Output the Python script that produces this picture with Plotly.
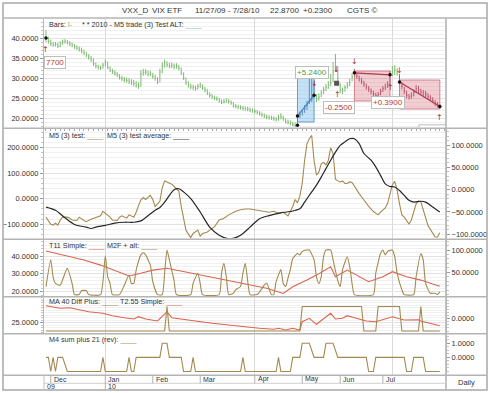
import plotly.graph_objects as go

W, H = 490, 393


def fx(px):
    return px / W


def fy(py):
    return 1 - py / H


# ------------------------------------------------------------------ DATA
# daily bars (trading-day index 0 = 11/27/09 ... 166 = 7/28/10)
close = [40.0, 39.2, 38.6, 38.3, 38.4, 38.0, 38.6, 39.0, 39.2, 38.9,
         38.6, 38.2, 37.8, 37.5, 37.2, 36.8, 36.3, 35.8, 35.2, 34.7,
         33.6, 33.0, 32.7, 32.5, 33.2, 34.0, 32.6, 32.0, 31.6, 31.2,
         30.8, 30.1, 29.8, 29.5, 29.4, 29.2, 28.9, 28.6, 28.2, 28.0,
         31.0, 31.4, 31.5, 31.0, 31.2, 30.4, 30.0, 29.0, 31.5, 33.0,
         33.8, 33.3, 33.0, 33.2, 32.8, 33.0, 32.5, 31.2, 30.0, 28.8,
         28.2, 27.8, 27.6, 27.4, 27.9, 28.2, 27.5, 27.0, 26.2, 25.6,
         25.3, 25.0, 24.8, 24.3, 24.0, 24.1, 24.3, 24.1, 23.8, 23.0,
         22.9, 22.7, 22.6, 22.4, 22.3, 22.2, 22.0, 21.8, 21.6, 21.4,
         21.1, 20.8, 20.5, 20.2, 20.1, 20.0, 19.8, 19.6, 20.0, 20.4,
         19.8, 19.1, 18.9, 18.7, 18.4, 18.2, 20.5, 20.9, 21.5, 22.3,
         23.2, 24.2, 24.8, 25.7, 24.8, 25.2, 26.3, 27.0, 27.6, 28.2,
         28.8, 31.5, 33.0, 30.0, 27.0, 26.8, 27.6, 28.2, 28.9, 30.3,
         31.3, 30.5, 29.8, 29.2, 28.5, 27.8, 27.2, 26.6, 26.0, 25.6,
         25.8, 26.6, 27.3, 27.8, 28.3, 30.8, 31.5, 32.0, 31.6, 29.0,
         27.9, 26.8, 25.7, 25.3, 25.5, 26.4, 27.3, 27.0, 26.5, 26.3,
         26.0, 25.4, 25.0, 24.4, 23.7, 23.2, 22.9]
high = [42.0, 40.3, 39.6, 39.0, 39.0, 38.9, 39.2, 39.6, 39.7, 39.5,
        39.2, 38.9, 38.5, 38.2, 37.9, 37.6, 37.1, 36.6, 36.0, 35.5,
        34.9, 33.9, 33.3, 33.1, 33.8, 34.6, 34.1, 32.9, 32.3, 32.0,
        31.5, 31.0, 30.6, 30.3, 30.1, 30.0, 29.7, 29.5, 29.2, 28.9,
        32.0, 32.3, 32.2, 31.9, 31.8, 31.3, 30.8, 30.2, 32.3, 33.9,
        34.6, 34.2, 33.8, 33.9, 33.6, 33.7, 33.3, 32.6, 31.4, 30.1,
        29.2, 28.6, 28.3, 28.1, 28.5, 28.9, 28.4, 27.8, 27.2, 26.4,
        26.0, 25.6, 25.4, 25.0, 24.6, 24.7, 24.9, 24.7, 24.4, 24.0,
        23.5, 23.3, 23.2, 23.0, 22.9, 22.8, 22.6, 22.4, 22.2, 22.0,
        21.7, 21.4, 21.1, 20.8, 20.7, 20.6, 20.4, 20.2, 20.8, 21.2,
        20.6, 19.9, 19.6, 19.4, 19.1, 18.9, 21.0, 21.6, 22.2, 23.2,
        24.3, 30.0, 31.5, 29.0, 26.0, 26.2, 27.0, 27.8, 28.5, 29.2,
        31.0, 34.0, 36.0, 33.0, 28.7, 27.6, 28.2, 29.0, 29.8, 31.2,
        32.3, 31.3, 30.6, 30.0, 29.3, 28.6, 28.0, 27.4, 26.8, 26.3,
        26.5, 27.3, 28.0, 28.6, 29.2, 31.8, 33.0, 33.2, 32.5, 31.0,
        29.0, 27.8, 26.8, 26.0, 26.4, 27.2, 28.2, 28.0, 27.3, 27.0,
        26.8, 26.2, 25.7, 25.2, 24.5, 24.0, 23.5]
low = [39.0, 38.6, 38.0, 37.8, 37.9, 37.5, 37.7, 38.3, 38.6, 38.4,
       38.0, 37.7, 37.3, 37.0, 36.6, 36.2, 35.7, 35.2, 34.6, 34.0,
       33.0, 32.4, 32.1, 32.0, 32.3, 33.0, 32.2, 31.5, 31.0, 30.6,
       30.2, 29.6, 29.2, 28.9, 28.8, 28.5, 28.2, 27.9, 27.6, 27.3,
       27.8, 30.6, 30.8, 30.4, 30.5, 29.8, 29.3, 28.5, 28.9, 31.2,
       32.6, 32.7, 32.4, 32.5, 32.2, 32.3, 31.9, 30.7, 29.5, 28.3,
       27.6, 27.2, 27.0, 26.8, 27.1, 27.5, 27.0, 26.4, 25.7, 25.1,
       24.8, 24.5, 24.3, 23.8, 23.5, 23.6, 23.8, 23.6, 23.3, 22.6,
       22.4, 22.2, 22.1, 21.9, 21.8, 21.7, 21.5, 21.3, 21.1, 20.9,
       20.6, 20.3, 20.0, 19.7, 19.6, 19.5, 19.3, 19.1, 19.3, 19.7,
       19.3, 18.6, 18.4, 18.2, 17.9, 17.7, 18.0, 20.0, 20.6, 21.3,
       22.0, 23.5, 24.0, 25.0, 24.0, 24.3, 25.2, 26.0, 26.7, 27.3,
       28.0, 29.0, 31.5, 28.5, 26.2, 26.0, 26.6, 27.3, 28.0, 29.2,
       30.4, 29.8, 29.1, 28.5, 27.8, 27.1, 26.5, 25.9, 25.3, 24.9,
       25.0, 25.7, 26.5, 27.0, 27.5, 28.0, 30.5, 30.8, 30.6, 28.4,
       27.2, 26.0, 25.0, 24.6, 24.8, 25.4, 26.3, 26.2, 25.7, 25.5,
       25.2, 24.7, 24.3, 23.7, 23.0, 22.6, 22.3]
days = list(range(len(close)))

# trades (day index, price)
trade_entry_day = [106, 130, 149]
trade_exit_day = [113, 145, 166]
trade_entry_price = [20.5, 31.3, 29.0]
trade_exit_price = [25.7, 30.8, 22.9]
trade_box_low = [19.0, 24.25, 22.25]
trade_box_high = [31.5, 31.75, 29.5]
trade_side = ["long", "short", "short"]

pnl_text = ["7700", "+5.2400", "-0.2500", "+0.3900"]
pnl_day = [-0.84, 112.3, 123.5, 144.1]
pnl_price = [33.9, 31.25, 22.6, 23.75]
pnl_color = ["#b2402e", "#3f9a3f", "#b2402e", "#b2402e"]

up_arrow_day = [0, 123, 145, 166]
up_arrow_price = [37.0, 25.75, 27.5, 20.0]
down_arrow_day = [113, 122.5, 130, 149]
down_arrow_price = [28.7, 32.0, 34.1, 31.8]

dot_day = [0, 106, 106, 113, 130, 145, 149, 166]
dot_price = [40.0, 20.5, 18.2, 25.7, 31.3, 30.8, 29.0, 22.9]
square_day = [122.5]
square_price = [28.7]

# panel 2: M5 (3) test (left axis), M5 (3) test average (right axis)
m5_test = [(0, -72), (2, -100), (3, -103), (4, -96), (5, -103), (6, -83), (7, -72), (9, -72),
           (10, -76), (11, -83), (13, -85), (14, -72), (16, -85), (17, -90), (19, -80), (21, -72),
           (23, -67), (24, -49), (26, -63), (27, -72), (28, -83), (30, -85), (31, -72), (32, -67),
           (34, -76), (35, -63), (37, -72), (38, -53), (39, -27), (40, -5), (41, 5), (42, -3),
           (44, 13), (45, -3), (46, -30), (48, -10), (49, 44), (50, 70), (51, 66), (53, 57),
           (54, 48), (56, 30), (57, -30), (58, -76), (59, -123), (61, -152), (62, -136), (64, -123),
           (65, -147), (66, -136), (68, -130), (69, -123), (71, -110), (73, -83), (75, -76), (77, -63),
           (80, -49), (82, -43), (84, -40), (86, -40), (88, -43), (90, -45), (92, -49), (94, -53),
           (96, -49), (98, -56), (100, -53), (102, -67), (103, -49), (104, -30), (105, -3), (106, -16),
           (107, 10), (108, 60), (109, 150), (110, 215), (111, 235), (112, 248), (113, 150), (114, 92),
           (115, 104), (116, 137), (117, 142), (118, 133), (119, 150), (120, 200), (121, 177), (122, 77),
           (123, 70), (124, 66), (125, 70), (126, 60), (127, 60), (128, 66), (129, 64), (130, 48),
           (132, 20), (134, -5), (136, -30), (138, -50), (140, -63), (141, -52), (143, -36), (144, -18),
           (145, 17), (146, 55), (147, 68), (148, 35), (149, -20), (150, -63), (151, -72), (152, -85),
           (153, -99), (154, -83), (155, -50), (156, -20), (157, -8), (158, -12), (159, -43), (160, -76),
           (161, -105), (162, -120), (163, -135), (164, -150), (165, -150), (166, -133)]
m5_avg = [(0, -39), (4, -46), (8, -63), (12, -78), (17, -84), (19, -87), (21, -84), (25, -80),
          (29, -75), (33, -73), (37, -73), (40, -70), (44, -54), (46, -46), (48, -40), (50, -28),
          (52, -13), (54, 0), (56, 2), (58, -5), (61, -20), (65, -50), (69, -84), (73, -102),
          (77, -110), (79, -109), (82, -102), (86, -84), (90, -65), (94, -58), (99, -52), (103, -49),
          (107, -43), (109, -28), (112, -5), (114, 10), (116, 28), (118, 47), (120, 66), (122, 84),
          (124, 99), (126, 107), (128, 114), (130, 114), (132, 103), (134, 81), (137, 66), (139, 51),
          (141, 32), (143, 13), (145, 7), (147, 6), (149, -2), (151, -13), (153, -24), (155, -28),
          (158, -26), (160, -28), (162, -35), (164, -43), (166, -50)]

# panel 3: T11 Simple (left), M2F + alt (right)
t11_simple = [(0, 42.8), (9, 40), (16, 37.8), (23, 34.9), (28, 32.5), (35, 28.8), (40, 30.3),
              (45, 32.1), (51, 33.1), (58, 31.2), (65, 29.3), (72, 27.5), (79, 25.6), (86, 23.7),
              (93, 21.9), (100, 19.0), (104, 22.8), (110, 26.5), (114, 29.3), (120, 34.0),
              (122, 28.4), (127, 32.1), (132, 28.4), (136, 25.6), (142, 28.4), (146, 31.2),
              (152, 28.4), (158, 26.5), (163, 24.3), (166, 23.1)]
m2f_alt = [(0, 18), (2, 78), (3, 40), (4, 25), (6, 21), (8, 48), (9, 59), (11, 25), (12, 0),
           (14, 0), (15, 9), (17, 9), (18, 0), (23, 0), (25, 87), (26, 40), (27, 25), (28, 0),
           (31, 0), (33, 21), (35, 44), (36, 25), (37, 25), (38, 55), (40, 89), (41, 94), (42, 89),
           (44, 66), (45, 29), (47, 0), (49, 0), (50, 48), (51, 100), (52, 78), (54, 31), (55, 0),
           (61, 0), (62, 25), (64, 48), (65, 25), (66, 0), (73, 0), (74, 48), (75, 70), (76, 40),
           (77, 0), (79, 3), (80, 11), (82, 18), (83, 48), (84, 70), (85, 31), (86, 0), (89, 0),
           (92, 21), (93, 26), (95, 0), (96, 0), (97, 29), (99, 56), (100, 25), (101, 18), (102, 37),
           (103, 56), (104, 81), (106, 92), (107, 89), (108, 97), (110, 100), (111, 100), (113, 78),
           (114, 40), (115, 25), (116, 40), (117, 85), (118, 100), (120, 100), (121, 78), (123, 31),
           (124, 18), (125, 56), (127, 85), (128, 63), (129, 25), (130, 0), (138, 0), (139, 48),
           (141, 92), (142, 100), (143, 89), (144, 97), (146, 100), (147, 85), (148, 48), (150, 11),
           (151, 0), (155, 0), (156, 40), (158, 92), (159, 78), (160, 25), (162, 3), (164, 3),
           (165, 0), (166, 6)]

# panel 4: MA 40 Diff Plus (right), T2.55 Simple (left)
ma40_diff = [(0, -1), (50, -1), (51, 1), (52, -1), (107, -1), (108, 1), (133, 1), (134, -1),
             (139, -1), (140, 1), (149, 1), (150, -1), (157, -1), (158, 1), (159, -1), (166, -1)]
t255_simple = [(0, 42), (6, 39.4), (10, 40), (14, 37.7), (18, 36), (24, 34.4), (28, 32), (33, 30),
               (37, 28.7), (39, 31), (42, 28.7), (47, 26.7), (51, 36), (53, 30), (58, 28.7),
               (63, 26.7), (70, 24.4), (76, 22.7), (82, 21), (90, 19.4), (96, 18.4), (98, 19.5),
               (101, 17.7), (104, 19.4), (107, 17.7), (108, 26), (111, 29.4), (114, 23.4),
               (120, 34.4), (122, 28.7), (125, 29.4), (127, 32), (130, 30), (135, 26.7), (139, 26),
               (146, 31), (151, 27.7), (157, 28), (158, 26.7), (166, 22)]

# panel 5: M4 sum plus 21 (rev)
m4_sum = [(0, 0), (1, 0), (2, -1), (3, 0), (4, -1), (5, 0), (7, 0), (9, -1), (23, -1), (24, 0),
          (25, -1), (34, -1), (35, 0), (36, -1), (37, -1), (38, 0), (48, 0), (49, 1), (51, 1),
          (52, 0), (57, 0), (58, -1), (61, -1), (62, 0), (63, -1), (82, -1), (83, 0), (84, -1),
          (97, -1), (98, 0), (99, -1), (103, -1), (104, 0), (107, 0), (108, 1), (111, 1), (113, 0),
          (117, 0), (118, 1), (121, 1), (123, 0), (135, 0), (136, -1), (138, -1), (139, 0),
          (151, 0), (152, -1), (154, -1), (155, 0), (159, 0), (160, -1), (166, -1)]

month_labels = ["Dec", "Jan", "Feb", "Mar", "Apr", "May", "Jun", "Jul"]
month_days = [2, 25, 45, 65, 88, 108, 124, 142]
year_labels = ["09", "10"]
year_days = [-0.84, 25]
quarter_grid_days = [25, 88, 146]

title_parts = ["VXX_D", "VIX ETF", "11/27/09 - 7/28/10", "22.8700", "+0.2300", "CGTS \u00a9"]

# ------------------------------------------------------------------ STYLE
TAN = "#a38a50"
RED = "#d9654e"
GREEN = "#7cba70"
BAR_LONG = "#5b8fbf"
BAR_SHORT = "#b85a70"
BLACK = "#262626"
ARROW = "#a5322a"
FONT = "Liberation Sans, Arial, sans-serif"
TXT = "#333333"

X_RANGE = [-0.84, 168.6]
# panel pixel extents (top, bottom)
PAN = {1: (18.5, 127.5), 2: (129.0, 238.5), 3: (240.0, 296.0), 4: (297.5, 333.0), 5: (334.5, 375.0)}


def yrange(v1, p1, v2, p2, panel):
    top, bot = PAN[panel]
    s = (v1 - v2) / (p1 - p2)
    return [v1 + (bot - p1) * s, v1 + (top - p1) * s]


def dom(panel):
    top, bot = PAN[panel]
    return [fy(bot), fy(top)]


fig = go.Figure()


def unzip(pairs):
    return [p[0] for p in pairs], [p[1] for p in pairs]


def bar_color(d):
    for e, x_, side in zip(trade_entry_day, trade_exit_day, trade_side):
        if e <= d <= x_:
            return BAR_LONG if side == "long" else BAR_SHORT
    return GREEN


# --- panel 1 bars (HLC: vertical range + close tick on the right)
groups = {}
for d, h, l, c in zip(days, high, low, close):
    col = bar_color(d)
    g = groups.setdefault(col, ([], []))
    g[0].extend([d, d, None, d, d + 0.4, None])
    g[1].extend([l, h, None, c, c, None])
for col, (gx, gy) in groups.items():
    fig.add_trace(go.Scatter(x=gx, y=gy, mode="lines", line=dict(color=col, width=1),
                             xaxis="x", yaxis="y", hoverinfo="skip"))

# trade lines
for e, x_, ep, xp, side in zip(trade_entry_day, trade_exit_day, trade_entry_price,
                               trade_exit_price, trade_side):
    col = "#3d82c4" if side == "long" else "#b5344a"
    fig.add_trace(go.Scatter(x=[e, x_], y=[ep, xp], mode="lines", line=dict(color=col, width=1.2),
                             xaxis="x", yaxis="y", hoverinfo="skip"))
fig.add_trace(go.Scatter(x=dot_day, y=dot_price, mode="markers",
                         marker=dict(color="#111", size=3.5), xaxis="x", yaxis="y", hoverinfo="skip"))
fig.add_trace(go.Scatter(x=square_day, y=square_price, mode="markers",
                         marker=dict(color="#555", size=5, symbol="square"),
                         xaxis="x", yaxis="y", hoverinfo="skip"))

# --- panel 2
d_, v_ = unzip(m5_test)
fig.add_trace(go.Scatter(x=d_, y=v_, mode="lines", line=dict(color=TAN, width=1.1),
                         xaxis="x2", yaxis="y3", hoverinfo="skip"))
d_, v_ = unzip(m5_avg)
fig.add_trace(go.Scatter(x=d_, y=v_, mode="lines", line=dict(color=BLACK, width=1.2, shape="spline", smoothing=0.8),
                         xaxis="x2", yaxis="y4", hoverinfo="skip"))

# --- panel 3
d_, v_ = unzip(m2f_alt)
fig.add_trace(go.Scatter(x=d_, y=v_, mode="lines", line=dict(color=TAN, width=1.1, shape="spline", smoothing=0.5),
                         xaxis="x3", yaxis="y6", hoverinfo="skip"))
d_, v_ = unzip(t11_simple)
fig.add_trace(go.Scatter(x=d_, y=v_, mode="lines", line=dict(color=RED, width=1.1),
                         xaxis="x3", yaxis="y5", hoverinfo="skip"))

# --- panel 4
d_, v_ = unzip(ma40_diff)
fig.add_trace(go.Scatter(x=d_, y=v_, mode="lines", line=dict(color=TAN, width=1.1),
                         xaxis="x4", yaxis="y8", hoverinfo="skip"))
d_, v_ = unzip(t255_simple)
fig.add_trace(go.Scatter(x=d_, y=v_, mode="lines", line=dict(color=RED, width=1.1),
                         xaxis="x4", yaxis="y7", hoverinfo="skip"))

# --- panel 5
d_, v_ = unzip(m4_sum)
fig.add_trace(go.Scatter(x=d_, y=v_, mode="lines", line=dict(color=TAN, width=1.1),
                         xaxis="x5", yaxis="y10", hoverinfo="skip"))

# ------------------------------------------------------------------ AXES
tickfont = dict(family=FONT, size=7.5, color=TXT)


def xax(anchor, bottom=False):
    d = dict(domain=[fx(44), fx(446)], range=X_RANGE, anchor=anchor, tickmode="array",
             tickvals=quarter_grid_days, showticklabels=False, ticks="", showgrid=True,
             gridcolor="#d9d9d9", gridwidth=1, zeroline=False, showline=False, fixedrange=True)
    if bottom:
        d["minor"] = dict(tickmode="linear", tick0=0, dtick=2, ticks="outside", ticklen=2,
                          tickcolor="#aaaaaa", showgrid=False)
    return d


def yax(panel, rng, tickvals, side, xanchor, overlay=None, minor_dtick=None, grid=True):
    d = dict(domain=dom(panel), range=rng, side=side, anchor=xanchor, tickmode="array",
             tickvals=tickvals, tickformat=".4f", tickfont=tickfont, ticks="outside", ticklen=3,
             tickcolor="#9a9a9a", showline=True, linecolor="#b8b8b8", linewidth=1,
             zeroline=False, showgrid=grid, gridcolor="#e3e3e3", fixedrange=True)
    if overlay:
        d["overlaying"] = overlay
    if minor_dtick:
        d["minor"] = dict(dtick=minor_dtick, ticks="outside", ticklen=2, tickcolor="#c4c4c4",
                          showgrid=grid, gridcolor="#f1f1f1")
    return d


lay = dict(
    width=W, height=H, margin=dict(l=0, r=0, t=0, b=0),
    paper_bgcolor="white", plot_bgcolor="white", showlegend=False,
    font=dict(family=FONT, size=7.5, color=TXT),
    xaxis=xax("y"), xaxis2=xax("y3"), xaxis3=xax("y5"), xaxis4=xax("y7"), xaxis5=xax("y9", True),
)
lay["xaxis2"]["matches"] = "x"
lay["xaxis3"]["matches"] = "x"
lay["xaxis4"]["matches"] = "x"
lay["xaxis5"]["matches"] = "x"

r1 = yrange(40, 38, 20, 118, 1)
lay["yaxis"] = yax(1, r1, [20, 25, 30, 35, 40], "left", "x", minor_dtick=1)
lay["yaxis2"] = yax(1, r1, [20, 25, 30, 35, 40], "right", "x", overlay="y", minor_dtick=1, grid=False)
lay["yaxis3"] = yax(2, yrange(200, 147.7, -100, 224.3, 2), [-100, 0, 100, 200], "left", "x2", minor_dtick=20)
lay["yaxis4"] = yax(2, yrange(100, 145, -100, 234.3, 2), [-100, -50, 0, 50, 100], "right", "x2",
                    overlay="y3", minor_dtick=10, grid=False)
lay["yaxis5"] = yax(3, yrange(40, 256, 20, 291.7, 3), [20, 30, 40], "left", "x3", minor_dtick=2)
lay["yaxis6"] = yax(3, yrange(100, 250, 50, 272.3, 3), [50, 100], "right", "x3", overlay="y5",
                    minor_dtick=10, grid=False)
lay["yaxis7"] = yax(4, yrange(25, 322.7, 35, 312.7, 4), [25], "left", "x4", minor_dtick=2.5)
lay["yaxis8"] = yax(4, yrange(1, 306.5, -1, 331, 4), [0], "right", "x4", overlay="y7",
                    minor_dtick=0.25, grid=False)
lay["yaxis9"] = yax(5, yrange(1, 343.3, -1, 371.5, 5), [], "left", "x5", minor_dtick=0.25)
lay["yaxis10"] = yax(5, yrange(1, 343.3, -1, 371.5, 5), [0, 1], "right", "x5", overlay="y9",
                     minor_dtick=0.25, grid=False)
fig.update_layout(**lay)

# ------------------------------------------------------------------ SHAPES
shapes = []
# trade boxes
for e, x_, lo, hi, side in zip(trade_entry_day, trade_exit_day, trade_box_low, trade_box_high, trade_side):
    if side == "long":
        fill, line = "rgba(140,195,235,0.50)", "rgba(80,145,200,0.85)"
    else:
        fill, line = "rgba(221,125,140,0.38)", "rgba(200,95,115,0.75)"
    shapes.append(dict(type="rect", xref="x", yref="y", x0=e, x1=x_, y0=lo, y1=hi,
                       fillcolor=fill, line=dict(color=line, width=1), layer="between"))
# clipped label of last trade (mostly below the panel)
shapes.append(dict(type="rect", xref="x", yref="y", x0=157.2, x1=170, y0=16.0, y1=18.3,
                   fillcolor="white", line=dict(color="#bdbdbd", width=1), layer="above"))

# frame
FR = "#b4b4b4"
shapes.append(dict(type="rect", xref="paper", yref="paper", x0=fx(3), x1=fx(487), y0=fy(390), y1=fy(3),
                   line=dict(color="#a8a8a8", width=1.5), layer="above"))
for py in [18, 128.2, 239.2, 296.8, 333.8, 375.2]:
    shapes.append(dict(type="line", xref="paper", yref="paper", x0=fx(3), x1=fx(487), y0=fy(py), y1=fy(py),
                       line=dict(color=FR, width=1.6), layer="above"))
shapes.append(dict(type="line", xref="paper", yref="paper", x0=fx(446), x1=fx(446), y0=fy(390), y1=fy(18),
                   line=dict(color=FR, width=1.6), layer="above"))
shapes.append(dict(type="line", xref="paper", yref="paper", x0=fx(44), x1=fx(44), y0=fy(390), y1=fy(375),
                   line=dict(color="#c0c0c0", width=1), layer="above"))
shapes.append(dict(type="line", xref="paper", yref="paper", x0=fx(44), x1=fx(446), y0=fy(383.3), y1=fy(383.3),
                   line=dict(color="#d0d0d0", width=1), layer="above"))
# month ticks on the date row
for lbl, d in zip(month_labels, month_days):
    bottom = 390 if lbl == "Jan" else 383.3
    shapes.append(dict(type="line", xref="x5", yref="paper", x0=d, x1=d, y0=fy(bottom), y1=fy(375),
                       line=dict(color="#b0b0b0", width=1), layer="above"))
fig.update_layout(shapes=shapes)

# ------------------------------------------------------------------ ANNOTATIONS
ann = []
title_x = [120, 150, 193, 268, 301, 345]
for t, px in zip(title_parts, title_x):
    ann.append(dict(xref="paper", yref="paper", x=fx(px), y=fy(10.5), text=t, showarrow=False,
                    xanchor="left", yanchor="middle", font=dict(family=FONT, size=8, color=TXT)))


def u(col):
    return "<span style='color:%s'>____</span>" % col


legend_items = [
    (47, 25, "Bars: <span style='color:%s'>I-</span>" % GREEN),
    (80, 25, "* * 2010 - M5 trade (3) Test ALT: " + u("#7ab4e0")),
    (47, 135.5, "M5 (3) test: " + u(TAN)),
    (105, 135.5, "M5 (3) test average: " + u(BLACK)),
    (47, 245, "T11 Simple: " + u(RED)),
    (105, 245, "M2F + alt: " + u(TAN)),
    (47, 301, "MA 40 Diff Plus: " + u(TAN)),
    (118, 301, "T2.55 Simple: " + u(RED)),
    (47, 339, "M4 sum plus 21 (rev): " + u(TAN)),
]
for px, py, t in legend_items:
    ann.append(dict(xref="paper", yref="paper", x=fx(px), y=fy(py), text=t, showarrow=False,
                    xanchor="left", yanchor="middle", font=dict(family=FONT, size=7.2, color=TXT)))

# P&L labels
for t, d, p, c in zip(pnl_text, pnl_day, pnl_price, pnl_color):
    anchor = "left" if d < 0 else "center"
    ann.append(dict(xref="x", yref="y", x=d, y=p, text=t, showarrow=False, xanchor=anchor,
                    yanchor="middle", bgcolor="white", bordercolor="#bdbdbd", borderwidth=1,
                    borderpad=1, font=dict(family=FONT, size=8, color=c)))
# arrows
for d, p in zip(up_arrow_day, up_arrow_price):
    ann.append(dict(xref="x", yref="y", x=d, y=p, text="\u2191", showarrow=False,
                    font=dict(family="DejaVu Sans", size=8, color=ARROW)))
for d, p in zip(down_arrow_day, down_arrow_price):
    ann.append(dict(xref="x", yref="y", x=d, y=p, text="\u2193", showarrow=False,
                    font=dict(family="DejaVu Sans", size=8, color=ARROW)))

# date axis labels
for lbl, d in zip(month_labels, month_days):
    ann.append(dict(xref="x5", yref="paper", x=d, y=fy(379.3), text=lbl, showarrow=False, xanchor="left",
                    xshift=1, yanchor="middle", font=dict(family=FONT, size=7, color=TXT)))
for lbl, d in zip(year_labels, year_days):
    ann.append(dict(xref="x5", yref="paper", x=d, y=fy(386.8), text=lbl, showarrow=False, xanchor="left",
                    xshift=1, yanchor="middle", font=dict(family=FONT, size=7, color=TXT)))
ann.append(dict(xref="paper", yref="paper", x=fx(466.5), y=fy(382.5), text="Daily", showarrow=False,
                xanchor="center", yanchor="middle", font=dict(family=FONT, size=7.5, color=TXT)))
fig.update_layout(annotations=ann)

fig.write_html("out.html", config={"displayModeBar": False, "staticPlot": True},
               post_script="document.body.style.margin='0';document.body.style.padding='0';"
                           "document.body.style.overflow='hidden';")
